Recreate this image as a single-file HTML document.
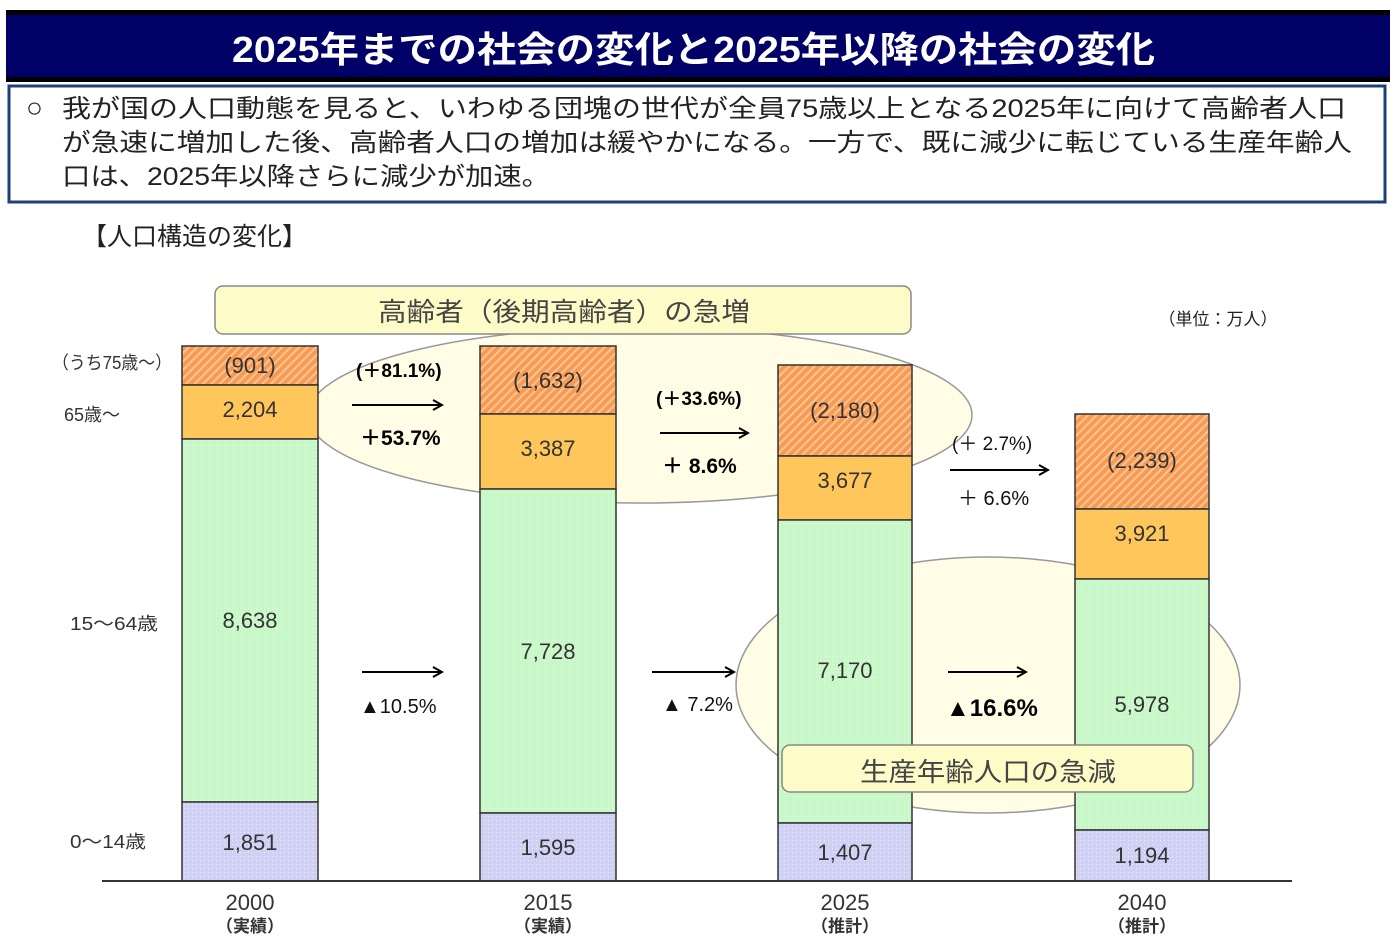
<!DOCTYPE html>
<html><head><meta charset="utf-8"><style>
body{margin:0;background:#fff;}
svg text{font-family:"Liberation Sans","Noto Sans CJK JP",sans-serif;}
</style></head><body>
<svg width="1400" height="940" viewBox="0 0 1400 940" xmlns="http://www.w3.org/2000/svg">
<defs>
<pattern id="hatch" width="6" height="6" patternUnits="userSpaceOnUse" patternTransform="rotate(45)">
<rect width="6" height="6" fill="#f79a55"/><rect width="2" height="6" fill="#fcc58f"/></pattern>
<pattern id="grn" width="4" height="4" patternUnits="userSpaceOnUse"><rect width="4" height="4" fill="#c8f8c8"/><rect width="1" height="1" fill="#e8ffe8"/></pattern>
<pattern id="pur" width="4" height="4" patternUnits="userSpaceOnUse"><rect width="4" height="4" fill="#d0d0f4"/><rect width="1" height="1" fill="#ececff"/></pattern>
<marker id="ar" markerWidth="12" markerHeight="12" refX="10" refY="6" orient="auto" markerUnits="userSpaceOnUse"><path d="M1,1 L10,6 L1,11" fill="none" stroke="#000" stroke-width="2"/></marker>
</defs>
<rect x="6" y="10" width="1384" height="72" fill="#000"/>
<rect x="6" y="15" width="1384" height="62" fill="#000066"/>
<text x="232" y="62" font-size="36" font-weight="bold" fill="#fff" textLength="923" lengthAdjust="spacingAndGlyphs">2025年までの社会の変化と2025年以降の社会の変化</text>
<rect x="9" y="86" width="1376" height="116" fill="#fff" stroke="#1f3f7a" stroke-width="3"/>
<g font-size="25" fill="#222">
<text x="26" y="117" font-size="28">○</text>
<text x="62" y="117" textLength="1284" lengthAdjust="spacingAndGlyphs">我が国の人口動態を見ると、いわゆる団塊の世代が全員75歳以上となる2025年に向けて高齢者人口</text>
<text x="62" y="151" textLength="1290" lengthAdjust="spacingAndGlyphs">が急速に増加した後、高齢者人口の増加は緩やかになる。一方で、既に減少に転じている生産年齢人</text>
<text x="62" y="185" textLength="488" lengthAdjust="spacingAndGlyphs">口は、2025年以降さらに減少が加速。</text>
</g>
<text x="82" y="245" font-size="25" fill="#222">【人口構造の変化】</text>
<ellipse cx="640" cy="415" rx="332" ry="88" fill="#fffde6" stroke="#999" stroke-width="1.5"/>
<ellipse cx="988" cy="685" rx="252" ry="128" fill="#fffde6" stroke="#999" stroke-width="1.5"/>
<rect x="215" y="286" width="696" height="48" rx="8" fill="#fdfbc8" stroke="#888" stroke-width="1.5"/>
<text x="378" y="321" font-size="26" fill="#444" textLength="372" lengthAdjust="spacingAndGlyphs">高齢者（後期高齢者）の急増</text>
<text x="1218" y="325" font-size="17" fill="#222" text-anchor="middle">（単位：万人）</text>
<g stroke="#333" stroke-width="1.5">
<rect x="182" y="346" width="136" height="39" fill="url(#hatch)"/>
<rect x="182" y="385" width="136" height="54" fill="#ffc65c"/>
<rect x="182" y="439" width="136" height="363" fill="url(#grn)"/>
<rect x="182" y="802" width="136" height="79" fill="url(#pur)"/>
<rect x="480" y="346" width="136" height="68" fill="url(#hatch)"/>
<rect x="480" y="414" width="136" height="75" fill="#ffc65c"/>
<rect x="480" y="489" width="136" height="324" fill="url(#grn)"/>
<rect x="480" y="813" width="136" height="68" fill="url(#pur)"/>
<rect x="778" y="365" width="134" height="91" fill="url(#hatch)"/>
<rect x="778" y="456" width="134" height="64" fill="#ffc65c"/>
<rect x="778" y="520" width="134" height="303" fill="url(#grn)"/>
<rect x="778" y="823" width="134" height="58" fill="url(#pur)"/>
<rect x="1075" y="414" width="134" height="95" fill="url(#hatch)"/>
<rect x="1075" y="509" width="134" height="70" fill="#ffc65c"/>
<rect x="1075" y="579" width="134" height="251" fill="url(#grn)"/>
<rect x="1075" y="830" width="134" height="51" fill="url(#pur)"/>
</g>
<line x1="102" y1="881" x2="1292" y2="881" stroke="#333" stroke-width="2"/>
<g font-size="22" fill="#333" text-anchor="middle">
<text x="250" y="373">(901)</text><text x="250" y="417">2,204</text><text x="250" y="628">8,638</text><text x="250" y="850">1,851</text>
<text x="548" y="388">(1,632)</text><text x="548" y="456">3,387</text><text x="548" y="659">7,728</text><text x="548" y="855">1,595</text>
<text x="845" y="418">(2,180)</text><text x="845" y="488">3,677</text><text x="845" y="678">7,170</text><text x="845" y="860">1,407</text>
<text x="1142" y="468">(2,239)</text><text x="1142" y="541">3,921</text><text x="1142" y="712">5,978</text><text x="1142" y="863">1,194</text>
<text x="250" y="910">2000</text><text x="548" y="910">2015</text><text x="845" y="910">2025</text><text x="1142" y="910">2040</text>
</g>
<g font-size="17" fill="#333" text-anchor="middle" font-weight="bold">
<text x="250" y="932">（実績）</text><text x="548" y="932">（実績）</text><text x="845" y="932">（推計）</text><text x="1142" y="932">（推計）</text>
</g>
<g font-size="18" fill="#333">
<text x="52" y="369" textLength="120" lengthAdjust="spacingAndGlyphs">（うち75歳～）</text><text x="64" y="421">65歳～</text><text x="70" y="630" textLength="88" lengthAdjust="spacingAndGlyphs">15～64歳</text><text x="70" y="848" textLength="76" lengthAdjust="spacingAndGlyphs">0～14歳</text>
</g>
<rect x="782" y="745" width="411" height="47" rx="8" fill="#fdfbc8" stroke="#888" stroke-width="1.5"/>
<text x="860" y="781" font-size="26" fill="#444" textLength="256" lengthAdjust="spacingAndGlyphs">生産年齢人口の急減</text>
<g stroke="#000" stroke-width="2" marker-end="url(#ar)">
<line x1="352" y1="405" x2="442" y2="405"/><line x1="660" y1="433" x2="748" y2="433"/><line x1="950" y1="470" x2="1048" y2="470"/>
<line x1="362" y1="672" x2="442" y2="672"/><line x1="652" y1="672" x2="734" y2="672"/><line x1="948" y1="672" x2="1026" y2="672"/>
</g>
<g font-weight="bold" fill="#000">
<text x="356" y="377" font-size="19">(＋81.1%)</text><text x="360" y="445" font-size="21">＋53.7%</text>
<text x="656" y="405" font-size="19">(＋33.6%)</text><text x="662" y="473" font-size="21">＋ 8.6%</text>
<text x="946" y="716" font-size="24">▲16.6%</text>
</g>
<g fill="#111" font-size="20">
<text x="952" y="450" font-size="19">(＋ 2.7%)</text><text x="958" y="505">＋ 6.6%</text>
<text x="360" y="713">▲10.5%</text><text x="662" y="711">▲ 7.2%</text>
</g>
</svg>
</body></html>
